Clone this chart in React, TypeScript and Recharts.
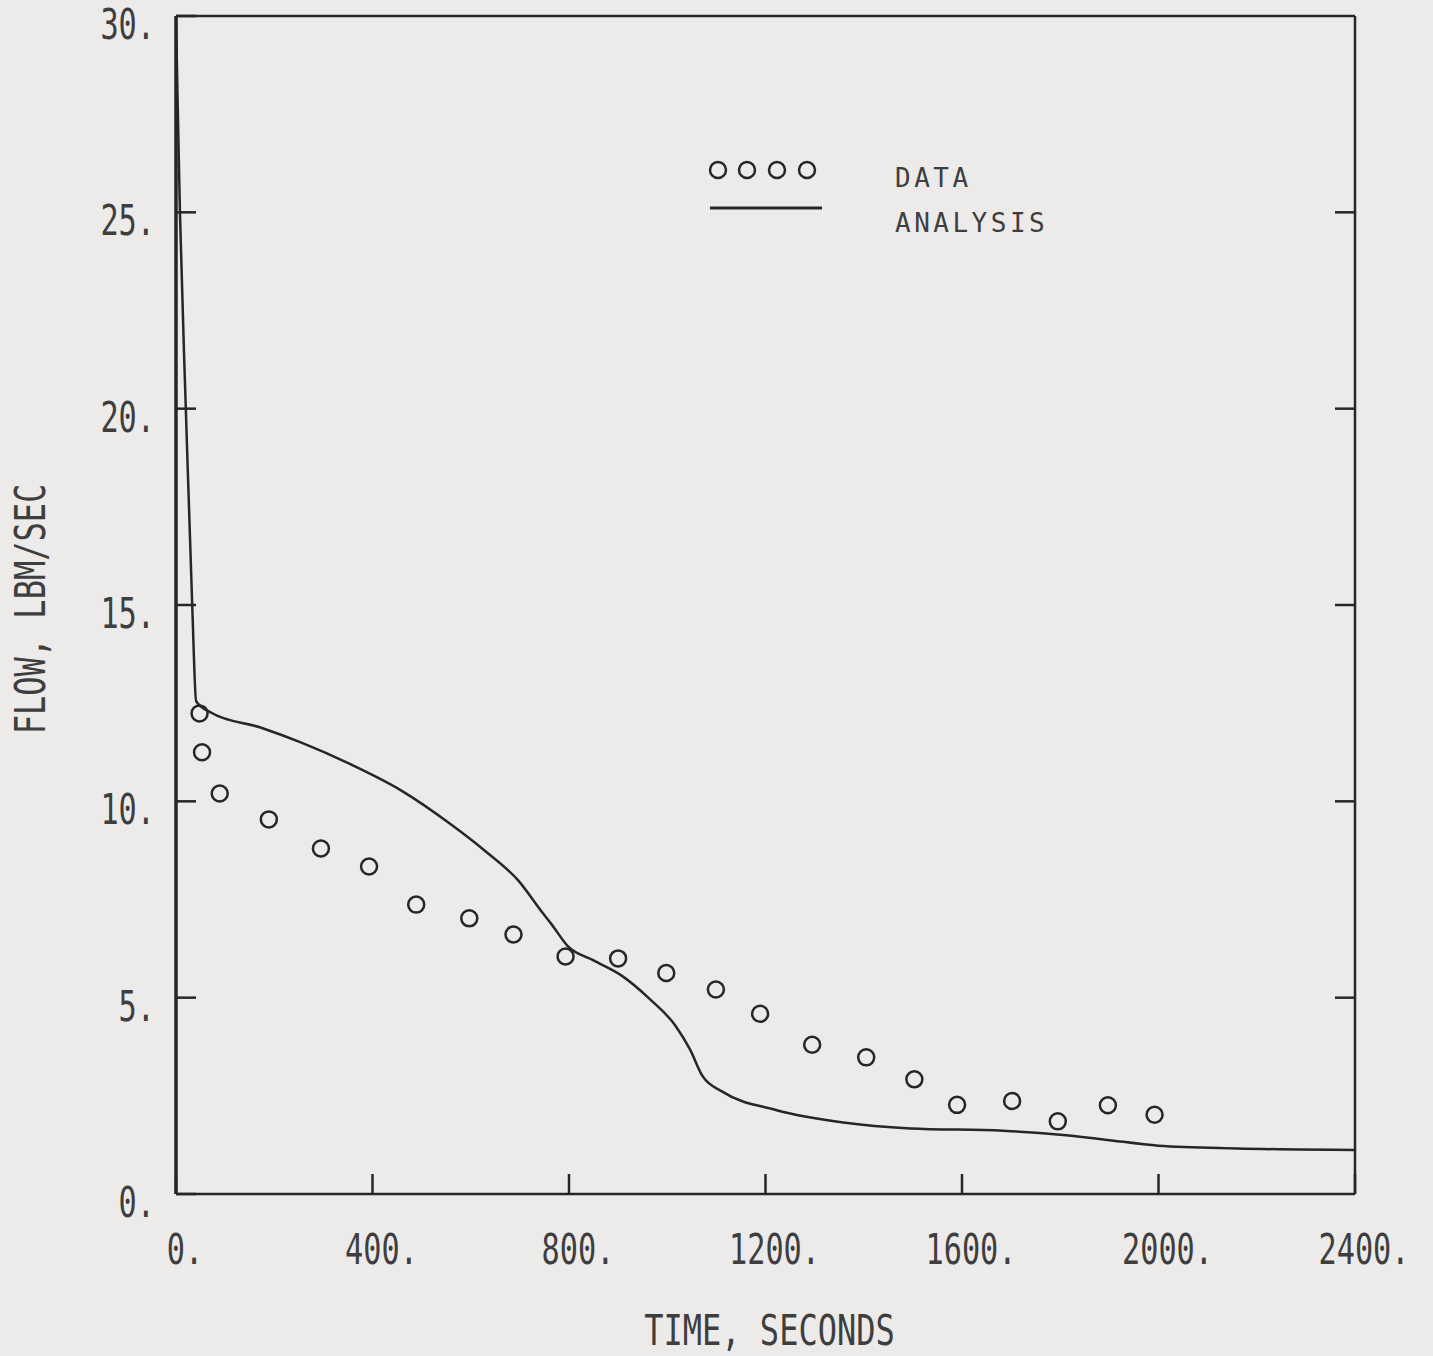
import React from 'react';
import { ComposedChart, Line, Scatter, XAxis, YAxis, Legend } from 'recharts';

// Axis ticks
const timeTicks = [0, 400, 800, 1200, 1600, 2000, 2400];
const flowTicks = [0, 5, 10, 15, 20, 25, 30];

// Measured flow (circles)
const dataTime = [48, 53, 89, 189, 295, 393, 489, 597, 687, 793, 900, 998, 1099, 1189, 1295, 1405, 1503, 1590, 1702, 1795, 1897, 1992];
const dataFlow = [12.24, 11.25, 10.2, 9.54, 8.8, 8.34, 7.37, 7.02, 6.61, 6.05, 6.0, 5.63, 5.21, 4.59, 3.8, 3.48, 2.92, 2.27, 2.37, 1.85, 2.26, 2.02];

// Calculated flow (solid curve)
const analysisTime = [0, 3, 8, 20, 33, 41, 70, 172, 254, 356, 458, 560, 628, 697, 745, 765, 797, 850, 905, 964, 1017, 1046, 1072, 1113, 1221, 1358, 1495, 1684, 1806, 1888, 2000, 2160, 2400];
const analysisFlow = [30, 28, 25, 20, 15, 12.55, 12.27, 11.88, 11.5, 10.94, 10.28, 9.41, 8.75, 7.98, 7.18, 6.86, 6.32, 5.95, 5.58, 4.97, 4.28, 3.69, 3.0, 2.6, 2.14, 1.82, 1.67, 1.61, 1.5, 1.39, 1.23, 1.16, 1.12];

const dataPoints = dataTime.map((t, i) => ({ t, flow: dataFlow[i] }));
const analysisPoints = analysisTime.map((t, i) => ({ t, flow: analysisFlow[i] }));

const INK = '#262626';
const TEXT = '#3e3e3e';
const FONT = '"DejaVu Sans Mono", monospace';
const TICK_LEN = 20;
const fmt = (v: number) => `${v}.`;

type CTProps = {
  x: number;
  y: number;
  anchor?: 'start' | 'middle' | 'end';
  rotate?: number;
  size?: number;
  squeeze?: number;
  children: React.ReactNode;
};

// Narrow typewriter-style lettering
function CondensedText({ x, y, anchor = 'middle', rotate = 0, size = 42, squeeze = 0.72, children }: CTProps) {
  return (
    <text
      transform={`translate(${x},${y}) rotate(${rotate}) scale(${squeeze},1)`}
      textAnchor={anchor}
      fontFamily={FONT}
      fontSize={size}
      fill={TEXT}
    >
      {children}
    </text>
  );
}

const BottomTick = (props: any) => {
  const { x, y, payload } = props;
  return (
    <g>
      <line x1={x} y1={y} x2={x} y2={y - TICK_LEN} stroke={INK} strokeWidth={2.5} />
      <CondensedText x={x + 9} y={y + 70}>{fmt(payload.value)}</CondensedText>
    </g>
  );
};

const TopTick = (props: any) => {
  const { x, y } = props;
  return <line x1={x} y1={y} x2={x} y2={y + TICK_LEN} stroke={INK} strokeWidth={2.5} />;
};

const LeftTick = (props: any) => {
  const { x, y, payload } = props;
  return (
    <g>
      <line x1={x} y1={y} x2={x + TICK_LEN} y2={y} stroke={INK} strokeWidth={2.5} />
      <CondensedText x={x - 21} y={y + 23} anchor="end">{fmt(payload.value)}</CondensedText>
    </g>
  );
};

const RightTick = (props: any) => {
  const { x, y } = props;
  return <line x1={x} y1={y} x2={x - TICK_LEN} y2={y} stroke={INK} strokeWidth={2.5} />;
};

const XTitle = (props: any) => {
  const vb = props.viewBox;
  return (
    <CondensedText x={vb.x + vb.width / 2 + 4} y={vb.y + 151} squeeze={0.745} size={43}>
      TIME, SECONDS
    </CondensedText>
  );
};

const YTitle = (props: any) => {
  const vb = props.viewBox;
  return (
    <CondensedText x={vb.x + 45} y={vb.y + vb.height / 2 + 4} rotate={-90} squeeze={0.745} size={43}>
      FLOW, LBM/SEC
    </CondensedText>
  );
};

const LegendBox = () => (
  <svg width={400} height={100}>
    {[18, 47, 77, 107].map((cx) => (
      <circle key={cx} cx={cx} cy={20} r={8} fill="none" stroke={INK} strokeWidth={2.5} />
    ))}
    <line x1={10} y1={58} x2={122} y2={58} stroke={INK} strokeWidth={3} />
    <text x={195} y={37} fontFamily={FONT} fontSize={26} letterSpacing={3.5} fill={TEXT}>DATA</text>
    <text x={195} y={82} fontFamily={FONT} fontSize={26} letterSpacing={3.5} fill={TEXT}>ANALYSIS</text>
  </svg>
);

const Ring = (props: any) => (
  <circle cx={props.cx} cy={props.cy} r={8} fill="none" stroke={INK} strokeWidth={2.5} />
);

export default function App() {
  return (
    <div style={{ position: 'absolute', left: 0, top: 0, width: 1433, height: 1356, background: '#ecebea' }}>
      <ComposedChart width={1433} height={1356} margin={{ top: 15, right: 77, bottom: 62, left: 0 }}>
        <XAxis
          dataKey="t"
          type="number"
          domain={[0, 2400]}
          ticks={timeTicks}
          allowDataOverflow
          height={100}
          tickSize={0}
          tickMargin={0}
          tickLine={false}
          tick={BottomTick}
          axisLine={{ stroke: INK, strokeWidth: 2.5 }}
          label={<XTitle />}
        />
        <XAxis
          xAxisId="top"
          orientation="top"
          type="number"
          domain={[0, 2400]}
          ticks={timeTicks.slice(1, -1)}
          allowDataOverflow
          height={1}
          tickSize={0}
          tickMargin={0}
          tickLine={false}
          tick={TopTick}
          axisLine={{ stroke: INK, strokeWidth: 2.5 }}
        />
        <YAxis
          type="number"
          domain={[0, 30]}
          ticks={flowTicks}
          allowDataOverflow
          width={176}
          tickSize={0}
          tickMargin={0}
          tickLine={false}
          tick={LeftTick}
          axisLine={{ stroke: INK, strokeWidth: 3.5 }}
          label={<YTitle />}
        />
        <YAxis
          yAxisId="right"
          orientation="right"
          type="number"
          domain={[0, 30]}
          ticks={flowTicks.slice(1, -1)}
          allowDataOverflow
          width={1}
          tickSize={0}
          tickMargin={0}
          tickLine={false}
          tick={RightTick}
          axisLine={{ stroke: INK, strokeWidth: 2.5 }}
        />
        <Line
          data={analysisPoints}
          dataKey="flow"
          type="monotone"
          stroke={INK}
          strokeWidth={2.5}
          dot={false}
          activeDot={false}
          isAnimationActive={false}
        />
        <Scatter data={dataPoints} dataKey="flow" shape={Ring} isAnimationActive={false} />
        <Legend
          layout="vertical"
          align="center"
          verticalAlign="middle"
          wrapperStyle={{ position: 'absolute', left: 700, top: 150, width: 400, height: 100 }}
          content={LegendBox}
        />
      </ComposedChart>
    </div>
  );
}
